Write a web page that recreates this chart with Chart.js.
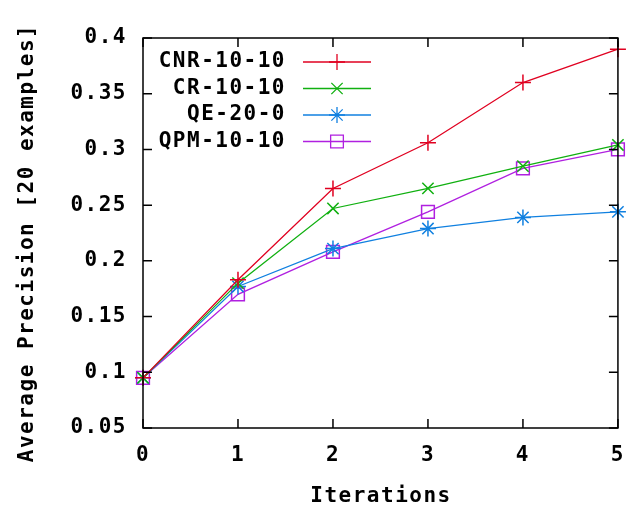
<!DOCTYPE html>
<html>
<head>
<meta charset="utf-8">
<script src="https://cdn.jsdelivr.net/npm/chart.js@4.4.1/dist/chart.umd.min.js"></script>
<style>
    html, body { margin: 0; padding: 0; background: #fff; }
    #wrap { width: 640px; height: 509px; position: relative; }
</style>
</head>
<body>
<div id="wrap"><canvas id="apChart"></canvas></div>
<script>
// values
const iterations = [0, 1, 2, 3, 4, 5];
const cnr = [0.095, 0.183, 0.265, 0.306, 0.360, 0.390];
const cr = [0.095, 0.180, 0.247, 0.265, 0.285, 0.304];
const qe = [0.095, 0.177, 0.211, 0.229, 0.239, 0.244];
const qpm = [0.095, 0.170, 0.208, 0.244, 0.283, 0.300];
const seriesNames = ["CNR-10-10", "CR-10-10", "QE-20-0", "QPM-10-10"];
const yTicks = [0.05, 0.1, 0.15, 0.2, 0.25, 0.3, 0.35, 0.4];

const monoFont = "'DejaVu Sans Mono', 'Liberation Mono', monospace";
const spacing = '1.5px';
const fontSize = 21;

function toPoints(arr) {
    return arr.map((v, i) => ({ x: iterations[i], y: v }));
}

// gnuplot style: ticks inward on all four sides, legend drawn inside, axis titles
const gnuplotLook = {
    id: 'gnuplotLook',
    beforeLayout(chart) { chart.ctx.letterSpacing = spacing; },
    beforeDraw(chart) { chart.ctx.letterSpacing = spacing; },
    afterDraw(chart) {
        const ctx = chart.ctx;
        const area = chart.chartArea;
        const xs = chart.scales.x, ys = chart.scales.y;
        ctx.save();
        ctx.strokeStyle = '#000';
        ctx.lineWidth = 1.5;
        ctx.beginPath();
        iterations.forEach(v => {
            const px = xs.getPixelForValue(v);
            ctx.moveTo(px, area.bottom); ctx.lineTo(px, area.bottom - 9);
            ctx.moveTo(px, area.top); ctx.lineTo(px, area.top + 9);
        });
        yTicks.forEach(v => {
            const py = ys.getPixelForValue(v);
            ctx.moveTo(area.left, py); ctx.lineTo(area.left + 9, py);
            ctx.moveTo(area.right, py); ctx.lineTo(area.right - 9, py);
        });
        ctx.stroke();
        ctx.strokeRect(area.left, area.top, area.right - area.left, area.bottom - area.top);

        // legend
        ctx.letterSpacing = spacing;
        ctx.font = "bold " + fontSize + "px " + monoFont;
        ctx.textBaseline = 'middle';
        ctx.textAlign = 'right';
        chart.data.datasets.forEach((ds, i) => {
            const y = 62 + i * 26.5;
            ctx.fillStyle = '#000';
            ctx.fillText(ds.label, 286, y);
            ctx.strokeStyle = ds.borderColor;
            ctx.lineWidth = 1.3;
            ctx.beginPath();
            ctx.moveTo(303, y); ctx.lineTo(371, y);
            ctx.stroke();
            ctx.fillStyle = 'rgba(0,0,0,0)';
            Chart.helpers.drawPoint(ctx, {
                pointStyle: ds.pointStyle, radius: ds.pointRadius,
                rotation: 0, borderWidth: 1.5
            }, 337, y);
        });

        // axis titles
        ctx.textAlign = 'center';
        ctx.fillStyle = '#000';
        ctx.fillText('Iterations', 381, 497);
        ctx.translate(28, 243);
        ctx.rotate(-Math.PI / 2);
        ctx.fillText('Average Precision [20 examples]', 0, 0);
        ctx.restore();
    }
};

function makeSet(label, data, color, style, radius) {
    return {
        label: label,
        data: toPoints(data),
        borderColor: color,
        backgroundColor: color,
        borderWidth: 1.3,
        pointStyle: style,
        pointRadius: radius,
        pointBorderWidth: 1.5,
        pointBackgroundColor: 'rgba(0,0,0,0)',
        pointBorderColor: color,
        clip: false,
        tension: 0
    };
}

const ctx = document.getElementById('apChart').getContext('2d');
const apChart = new Chart(ctx, {
    type: 'line',
    data: {
        datasets: [
            makeSet(seriesNames[0], cnr, '#e00020', 'cross', 8),
            makeSet(seriesNames[1], cr, '#10b010', 'crossRot', 8),
            makeSet(seriesNames[2], qe, '#1080e0', 'star', 8),
            makeSet(seriesNames[3], qpm, '#b020e0', 'rect', 9)
        ]
    },
    options: {
        responsive: true,
        maintainAspectRatio: false,
        animation: false,
        layout: { padding: { top: 38, right: 13, left: 0, bottom: 0 } },
        plugins: {
            legend: { display: false },
            tooltip: { enabled: false }
        },
        scales: {
            x: {
                type: 'linear',
                min: 0,
                max: 5,
                afterFit: s => { s.height = 81; },
                afterBuildTicks: s => { s.ticks = iterations.map(v => ({ value: v })); },
                grid: { display: false, drawTicks: false },
                border: { display: false },
                ticks: {
                    padding: 15,
                    color: '#000',
                    font: { family: monoFont, size: fontSize, weight: 'bold' },
                    callback: v => String(v)
                }
            },
            y: {
                min: 0.05,
                max: 0.4,
                afterFit: s => { s.width = 143; },
                afterBuildTicks: s => { s.ticks = yTicks.map(v => ({ value: v })); },
                grid: { display: false, drawTicks: false },
                border: { display: false },
                ticks: {
                    padding: 16,
                    color: '#000',
                    font: { family: monoFont, size: fontSize, weight: 'bold' },
                    callback: v => String(Math.round(v * 100) / 100)
                }
            }
        }
    },
    plugins: [gnuplotLook]
});
</script>
</body>
</html>
